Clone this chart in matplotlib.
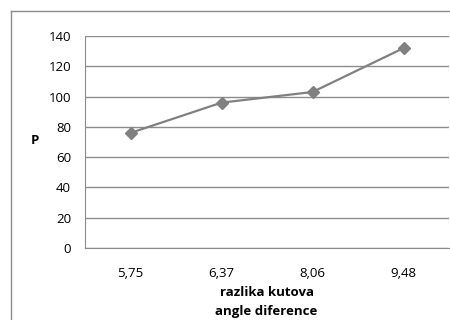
import matplotlib
matplotlib.use("Agg")
import matplotlib.pyplot as plt
from matplotlib.lines import Line2D

categories = ["5,75", "6,37", "8,06", "9,48"]
values = [76, 96, 103, 132]
yticks = [0, 20, 40, 60, 80, 100, 120, 140]

plt.rcParams['font.family'] = ['Open Sans', 'DejaVu Sans']

fig = plt.figure(figsize=(4.5, 3.2), dpi=100)
ax = fig.add_axes([85/450, 1-248/320, 364/450, 212/320])

x = [i + 0.5 for i in range(len(categories))]
ax.plot(x, values, color='#808080', lw=1.6, marker='D', markersize=6.5,
        markerfacecolor='#808080', markeredgecolor='#808080', zorder=3)

ax.set_xlim(0, len(categories))
ax.set_ylim(0, 140)
ax.set_yticks(yticks)
ax.set_yticklabels([str(v) for v in yticks], fontsize=9.5)
ax.set_xticks(x)
ax.set_xticklabels(categories, fontsize=9.5)
ax.tick_params(axis='both', length=0)
ax.tick_params(axis='y', pad=10)
ax.tick_params(axis='x', pad=14)
ax.grid(axis='y', color='#8c8c8c', lw=1)
ax.set_axisbelow(True)
for s in ['top', 'right']:
    ax.spines[s].set_visible(False)
ax.spines['left'].set_color('#8c8c8c')
ax.spines['bottom'].set_color('#8c8c8c')

fig.text(35/450, 1-141/320, "P", fontsize=9.5, fontweight='bold', ha='center', va='center')
fig.text(267/450, 1-293/320, "razlika kutova", fontsize=9.5, fontweight='bold', ha='center', va='center')
fig.text(266/450, 1-311/320, "angle diference", fontsize=9.5, fontweight='bold', ha='center', va='center')

fig.add_artist(Line2D([10.5/450, 10.5/450], [0, 1-10.5/320], transform=fig.transFigure, color='#8c8c8c', lw=1))
fig.add_artist(Line2D([10.5/450, 1], [1-10.5/320, 1-10.5/320], transform=fig.transFigure, color='#8c8c8c', lw=1))

fig.savefig("out.png", dpi=100)
